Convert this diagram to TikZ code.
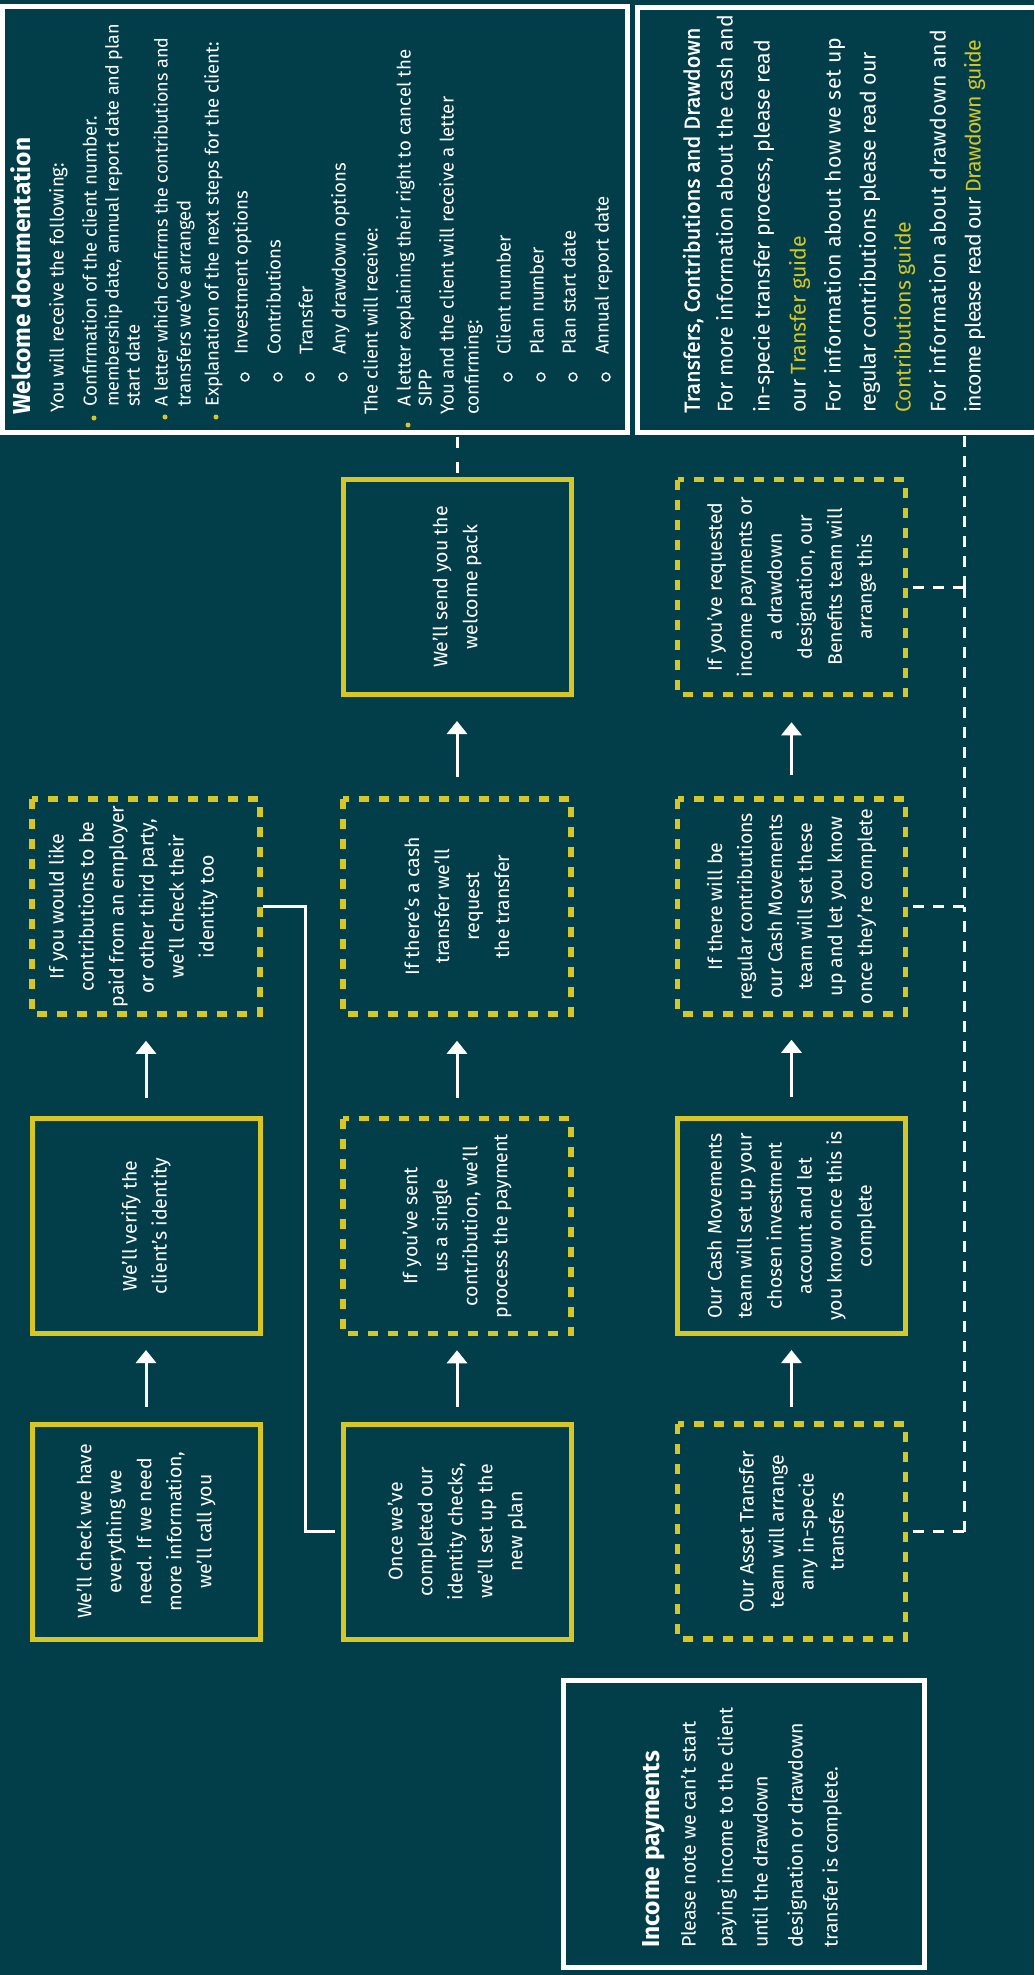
\documentclass[tikz,border=0pt]{standalone}
\usepackage{fontspec}
\setmainfont{Fira Sans}
\newfontfamily\medfont{Fira Sans}[FakeBold=1.3]
\usetikzlibrary{arrows.meta}
\definecolor{bg}{RGB}{2,61,74}
\definecolor{ylw}{RGB}{214,199,38}
\begin{document}
\begin{tikzpicture}[x=1pt,y=-1pt,
  body/.style={font=\fontsize{19.5}{30}\selectfont, text=white},
  solidbox/.style={draw=ylw, line width=5pt, rotate=90, minimum width=215pt, minimum height=228pt, inner sep=0pt, align=center, body},
  dashbox/.style={solidbox, line width=5.5pt, dash pattern=on 10pt off 10pt},
  ln/.style={rotate=90, anchor=mid west, inner sep=0pt, text=white, font=\fontsize{19.5}{22}\selectfont},
  wln/.style={ln, font=\fontsize{18.6}{22}\selectfont},
  wlns/.style={ln, font=\fontsize{18.0}{22}\selectfont},
  tln/.style={ln, font=\fontsize{21.3}{24}\selectfont},
  hd/.style={ln, font=\fontsize{24.5}{28}\selectfont\bfseries},
  ttl/.style={ln, font=\fontsize{21.6}{24}\selectfont\medfont},
  arr/.style={white, line width=3pt, -{Triangle[width=20pt,length=13pt]}},
  conn/.style={white, line width=3pt},
  wdash/.style={white, line width=3pt, dash pattern=on 11pt off 9pt},
  panel/.style={draw=white, line width=5pt, inner sep=0pt},
  ydot/.style={circle, fill=ylw, inner sep=0pt, minimum size=5pt},
  odot/.style={circle, draw=white, line width=1.4pt, inner sep=0pt, minimum size=8pt},
]
\useasboundingbox (0,0) rectangle (1034,1975);
\fill[bg] (0,0) rectangle (1034,1975);

% panels
\node[panel, minimum width=624.5pt, minimum height=425.5pt] (W) at (314.75,219.75) {};
\node[panel, minimum width=407.5pt, minimum height=425pt] (T) at (841.25,220) {};
\node[panel, minimum width=361pt, minimum height=287pt] (IP) at (744,1824) {};

% welcome documentation text
\node[hd] (wh) at (28,415) {Welcome documentation};
\node[wln] (w1) at (61,413) {You will receive the following:};
\node[ydot] (b1) at (94,418) {};
\node[wln] (w2) at (94,407) {Confirmation of the client number.};
\node[wlns] (w3) at (116,407) {membership date, annual report date and plan};
\node[wln] (w4) at (137,407) {start date};
\node[ydot] (b2) at (165,417) {};
\node[wlns] (w5) at (165,407) {A letter which confirms the contributions and};
\node[wln] (w6) at (188,407) {transfers we’ve arranged};
\node[ydot] (b3) at (216,417) {};
\node[wln] (w7) at (216,407) {Explanation of the next steps for the client:};
\node[odot] (o1) at (245,377) {};
\node[wln] (w8) at (245,355) {Investment options};
\node[odot] (o2) at (278,377) {};
\node[wln] (w9) at (278,355) {Contributions};
\node[odot] (o3) at (310,377) {};
\node[wln] (w10) at (310,355) {Transfer};
\node[odot] (o4) at (343,377) {};
\node[wln] (w11) at (343,355) {Any drawdown options};
\node[wln] (w12) at (375,415) {The client will receive:};
\node[ydot] (b4) at (408,425) {};
\node[wln] (w13) at (408,407) {A letter explaining their right to cancel the};
\node[wln] (w14) at (429,407) {SIPP};
\node[wln] (w15) at (451,415) {You and the client will receive a letter};
\node[wln] (w16) at (476,415) {confirming:};
\node[odot] (o5) at (508,377) {};
\node[wln] (w17) at (508,355) {Client number};
\node[odot] (o6) at (541,377) {};
\node[wln] (w18) at (541,355) {Plan number};
\node[odot] (o7) at (573,377) {};
\node[wln] (w19) at (573,355) {Plan start date};
\node[odot] (o8) at (606,377) {};
\node[wln] (w20) at (606,355) {Annual report date};

% transfers text
\node[ttl] (t0) at (697,413) {Transfers, Contributions and Drawdown};
\node[tln] (t1) at (730,413) {For more information about the cash and};
\node[tln] (t2) at (767,413) {in-specie transfer process, please read};
\node[tln] (t3) at (803,413) {our \textcolor{ylw}{Transfer guide}};
\node[tln] (t4) at (838,413) {\addfontfeatures{LetterSpace=3}For information about how we set up};
\node[tln] (t5) at (873,413) {regular contributions please read our};
\node[tln] (t6) at (908,413) {\textcolor{ylw}{Contributions guide}};
\node[tln] (t7) at (943,413) {\addfontfeatures{LetterSpace=3.5}For information about drawdown and};
\node[tln] (t8) at (978,413) {\addfontfeatures{LetterSpace=-3}income please read our \textcolor{ylw}{Drawdown guide}};

% income payments text
\node[hd] (ih) at (657,1948) {Income payments};
\node[ln] (i1) at (693,1948) {Please note we can’t start};
\node[ln] (i2) at (730,1948) {paying income to the client};
\node[ln] (i3) at (765,1948) {until the drawdown};
\node[ln] (i4) at (800,1948) {designation or drawdown};
\node[ln] (i5) at (835,1948) {transfer is complete.};

% flow boxes
\node[solidbox] (A) at (146,1531.5) {We’ll check we have\\everything we\\need. If we need\\more information,\\we’ll call you};
\node[solidbox] (B) at (146,1226) {We’ll verify the\\client’s identity};
\node[dashbox] (C) at (146,906.5) {If you would like\\contributions to be\\paid from an employer\\or other third party,\\we’ll check their\\identity too\\\mbox{}};
\node[solidbox] (D) at (457,1531.5) {Once we’ve\\completed our\\identity checks,\\we’ll set up the\\new plan};
\node[dashbox] (E) at (457,1226) {If you’ve sent\\us a single\\contribution, we’ll\\process the payment};
\node[dashbox] (F) at (457,906.5) {If there’s a cash\\transfer we’ll\\request\\the transfer};
\node[solidbox] (G) at (457,587) {We’ll send you the\\welcome pack};
\node[dashbox] (H) at (791.5,1531.5) {Our Asset Transfer\\team will arrange\\any in-specie\\transfers};
\node[solidbox] (I) at (791.5,1226) {Our Cash Movements\\team will set up your\\chosen investment\\account and let\\you know once this is\\complete};
\node[dashbox] (J) at (791.5,906.5) {If there will be\\regular contributions\\our Cash Movements\\team will set these\\up and let you know\\once they’re complete};
\node[dashbox] (K) at (791.5,587) {If you’ve requested\\income payments or\\a drawdown\\designation, our\\Benefits team will\\arrange this};

% arrows
\draw[arr, shorten <=15pt, shorten >=14pt] (A) -- (B);
\draw[arr, shorten <=18pt, shorten >=24pt] (B) -- (C);
\draw[arr, shorten <=15pt, shorten >=14pt] (D) -- (E);
\draw[arr, shorten <=18pt, shorten >=24pt] (E) -- (F);
\draw[arr, shorten <=19pt, shorten >=24pt] (F) -- (G);
\draw[arr, shorten <=14pt, shorten >=14pt] (H) -- (I);
\draw[arr, shorten <=19pt, shorten >=23pt] (I) -- (J);
\draw[arr, shorten <=21pt, shorten >=25pt] (J) -- (K);

% solid connector
\draw[conn, shorten >=6pt] (C.south) -- ++(43,0) |- (D.north);

% dashed connectors
\draw[wdash, dash pattern=on 11pt off 14pt, shorten <=2pt] (W.south -| G) -- (G.east);
\coordinate (jK) at (964,587);
\coordinate (jJ) at (964,906.5);
\coordinate (jH) at (964,1531.5);
\draw[wdash] (jK) -- (jK |- T.south);
\draw[wdash] (jK) -- (jJ);
\draw[wdash] (jH) -- (jJ);
\draw[wdash, shorten >=5pt] (jK) -- (K.south);
\draw[wdash, shorten >=5pt] (jJ) -- (J.south);
\draw[wdash, shorten >=5pt] (jH) -- (H.south);
\end{tikzpicture}
\end{document}
